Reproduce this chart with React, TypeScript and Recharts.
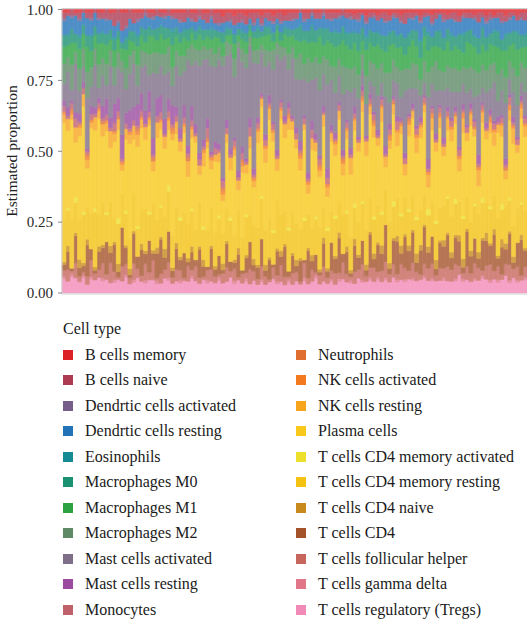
import { Bar, BarChart, XAxis, YAxis } from "recharts";

// legend order (top of stack first)
const cellTypes = [
  "B cells memory",
  "B cells naive",
  "Dendrtic cells activated",
  "Dendrtic cells resting",
  "Eosinophils",
  "Macrophages M0",
  "Macrophages M1",
  "Macrophages M2",
  "Mast cells activated",
  "Mast cells resting",
  "Monocytes",
  "Neutrophils",
  "NK cells activated",
  "NK cells resting",
  "Plasma cells",
  "T cells CD4 memory activated",
  "T cells CD4 memory resting",
  "T cells CD4 naive",
  "T cells CD4",
  "T cells follicular helper",
  "T cells gamma delta",
  "T cells regulatory (Tregs)",
];

const cellColors = [
  "#DC2127", "#AE3A52", "#775D8A", "#2373B9", "#138A94", "#1A9170",
  "#2CA240", "#5E8A66", "#7E6E88", "#9A4B9F", "#C0606B", "#E06E30",
  "#F47A20", "#F8A51E", "#F8C81A", "#EDE02C", "#F3C212", "#C88A1C",
  "#A4522A", "#C7665C", "#E07688", "#F28AB8",
];

const yTicks = [0, 0.25, 0.5, 0.75, 1];

// estimated proportions per sample (percent), one array per cell type
const bMemory = [1,1,0,1,1,0,1,1,0,1, 1,0,1,1,0,1,1,0,1,1, 1,0,1,1,0,1,1,0,1,1, 1,1,0,1,1,0,1,1,0,1, 1,2,1,1,2,1,1,2,1,1, 1,2,1,1,2,1,1,2,1,1, 1,0,1,1,0,1,1,0,1,1, 1,1,0,1,1,2,1,1,2,1, 1,2,1,1,2,1,1,2,1,1, 1,1,2,1,1,2,1,1,1,2, 1,1,2,1,1,1,2,1,1,2, 1,2,1,1,2,1,1,2,1,1];
const bNaive = [2,1,2,1,2,1,2,2,1,2, 2,3,2,5,4,6,5,3,4,2, 2,1,2,1,2,2,1,2,1,2, 2,3,2,2,3,2,2,3,2,3, 3,2,3,2,3,3,2,3,2,3, 2,3,2,3,2,2,3,2,3,2, 2,1,2,2,1,2,2,1,2,2, 2,1,2,2,1,2,2,1,2,2, 1,2,2,3,2,1,2,2,4,2, 2,1,2,2,1,3,2,1,2,2, 2,3,2,1,2,2,1,3,2,2, 2,1,2,3,2,2,1,2,2,3];
const dcActivated = [1,0,1,0,1,0,0,1,0,1, 0,1,0,0,1,0,1,0,0,1, 0,1,0,1,0,0,1,0,1,0, 1,0,0,1,0,1,0,0,1,0, 1,0,0,1,0,0,1,0,0,1, 0,1,0,0,1,0,1,0,0,1, 0,0,1,0,1,0,0,1,0,1, 0,1,0,0,1,0,1,0,1,0, 1,0,0,1,0,1,0,1,0,0, 1,0,1,0,0,1,0,0,1,0, 0,1,0,1,0,0,1,0,0,1, 1,0,0,1,0,1,0,0,1,0];
const dcResting = [5,6,4,6,5,4,6,5,4,5, 4,5,3,4,3,4,3,4,3,4, 3,4,3,3,4,3,3,4,3,3, 3,2,3,2,3,2,3,2,3,2, 2,3,2,2,3,2,2,3,2,2, 3,2,3,2,3,2,3,2,3,3, 3,4,3,4,3,4,3,4,3,4, 4,5,4,5,4,5,4,5,4,5, 5,4,6,5,4,5,6,4,5,5, 4,5,6,4,5,5,4,6,5,4, 5,6,4,5,5,4,6,5,4,5, 5,4,5,6,4,5,5,4,6,5];
const eosinophils = [0,1,0,0,1,0,0,1,0,0, 1,0,0,1,0,0,1,0,0,1, 0,0,1,0,0,1,0,0,1,0, 0,1,0,0,0,1,0,0,1,0, 0,0,1,0,0,0,1,0,0,0, 1,0,0,1,0,0,0,1,0,0, 0,1,0,0,1,0,0,1,0,0, 1,0,0,1,0,1,0,0,1,0, 0,1,0,0,1,0,1,0,0,1, 0,0,1,0,1,0,0,1,0,0, 1,0,0,1,0,0,1,0,1,0, 0,1,0,0,1,0,0,1,0,1];
const macroM0 = [4,3,5,3,4,3,4,5,3,4, 3,4,3,4,3,2,4,3,4,3, 3,4,3,2,4,3,4,3,4,3, 3,2,3,2,3,2,3,2,3,2, 2,3,2,2,3,2,2,3,2,2, 3,2,3,2,3,2,3,2,3,2, 4,5,3,4,5,4,3,5,4,4, 5,4,5,4,5,4,6,5,4,5, 5,4,5,6,4,5,4,5,6,4, 4,5,6,4,5,4,5,6,4,5, 5,4,5,6,4,5,4,5,6,5, 4,5,6,4,5,5,4,6,5,4];
const macroM1 = [6,4,8,3,7,5,9,6,4,8, 5,7,3,6,5,4,7,5,3,6, 5,3,7,5,4,8,5,3,7,5, 4,6,2,4,3,5,2,4,3,5, 3,4,2,3,5,2,3,4,2,4, 4,3,5,6,3,4,2,5,6,4, 6,4,8,5,7,5,9,4,6,8, 7,5,9,8,6,10,8,5,9,7, 6,9,5,8,10,6,7,9,5,8, 9,6,8,10,7,8,5,9,7,10, 6,9,7,5,10,8,9,6,8,7, 8,6,10,7,9,6,8,10,6,8];
const macroM2 = [7,5,9,4,8,6,9,7,5,9, 6,8,5,7,6,4,8,6,5,7, 6,4,8,6,7,5,7,8,6,5, 6,5,3,7,4,5,4,3,6,4, 4,3,5,3,6,2,4,5,3,4, 5,3,6,4,7,4,5,3,6,4, 7,9,5,8,6,7,9,6,8,5, 9,6,10,8,7,9,8,6,10,8, 8,10,7,9,11,8,6,10,8,7, 10,8,6,9,8,7,10,8,6,9, 8,10,7,6,9,8,11,7,9,8, 9,7,10,8,9,7,8,11,8,9];
const mastActivated = [6,12,4,16,8,5,18,7,13,4, 10,5,15,7,11,21,9,12,16,6, 9,14,6,20,8,12,15,9,6,14, 16,11,22,14,21,28,24,18,29,22, 27,34,22,30,20,38,26,31,24,34, 19,15,24,12,18,32,14,22,12,20, 16,21,12,30,14,19,22,11,27,16, 14,9,20,11,17,8,13,6,11,5, 9,13,5,19,8,6,12,8,22,9, 6,12,8,5,20,9,14,6,15,8, 9,6,18,7,12,5,9,19,6,11, 8,14,6,9,19,6,8,12,5,9];
const mastResting = [2,3,1,2,3,2,1,3,2,2, 4,6,3,7,5,8,4,6,5,7, 6,4,8,5,6,7,5,4,6,3, 3,4,2,5,3,2,2,3,1,2, 2,1,3,2,1,2,2,1,3,2, 2,1,2,3,1,2,1,2,2,1, 2,3,1,2,3,2,1,2,3,2, 2,1,2,1,2,3,1,2,1,2, 1,2,1,3,2,1,2,1,2,1, 2,1,2,1,3,1,2,1,2,2, 1,2,1,2,1,2,1,3,1,2, 2,1,2,1,2,1,2,1,2,1];
const monocytes = [2,1,2,3,1,2,1,2,1,2, 1,2,1,3,2,1,2,1,2,1, 2,1,2,1,2,3,1,2,1,2, 1,2,1,2,1,2,1,3,1,2, 1,2,2,1,2,1,2,1,3,1, 2,1,2,1,2,1,2,1,2,1, 2,1,2,1,3,1,2,1,2,1, 1,2,1,2,1,2,1,2,1,2, 2,1,2,1,2,1,3,1,2,1, 1,2,1,2,1,2,1,2,1,2, 2,1,2,1,2,1,2,1,2,1, 1,2,1,2,1,3,1,2,1,2];
const neutrophils = [0,0,1,0,0,0,1,0,0,0, 1,0,0,0,1,0,0,0,0,1, 0,0,0,1,0,0,0,0,1,0, 0,0,1,0,0,0,0,1,0,0, 0,1,0,0,0,0,1,0,0,0, 0,0,0,1,0,0,0,0,1,0, 0,1,0,0,0,0,1,0,0,0, 0,0,1,0,0,0,0,1,0,0, 1,0,0,0,0,1,0,0,0,1, 0,0,0,1,0,0,0,1,0,0, 0,1,0,0,0,0,1,0,0,0, 1,0,0,0,1,0,0,0,1,0];
const nkActivated = [1,0,1,0,1,0,1,1,0,1, 0,1,0,1,0,1,0,1,0,1, 1,0,1,0,0,1,0,1,1,0, 0,1,0,1,0,0,1,0,1,0, 0,1,0,0,1,0,1,0,0,1, 1,0,1,0,1,0,1,0,1,0, 0,1,0,1,0,0,1,0,1,0, 1,0,1,1,0,1,0,1,0,1, 1,0,1,0,2,0,1,1,0,1, 0,1,1,0,1,2,0,1,0,1, 1,0,1,2,0,1,0,1,1,0, 1,1,0,1,0,2,1,0,1,1];
const nkResting = [3,4,2,5,3,4,3,2,4,3, 4,3,5,3,4,2,4,3,5,4, 3,4,2,3,5,3,4,3,2,4, 3,2,4,3,2,3,4,2,3,2, 3,2,3,4,2,3,2,3,4,2, 4,3,5,4,3,4,3,5,4,3, 3,4,2,3,4,3,2,4,3,3, 4,3,4,3,5,4,3,4,5,3, 4,3,5,4,3,4,5,3,4,4, 3,5,4,3,4,5,3,4,3,5, 4,3,4,5,3,4,3,5,4,3, 4,5,3,4,3,4,5,3,4,4];
const plasma = [34,26,36,18,30,35,14,31,24,37, 22,30,16,28,33,8,27,31,20,26, 28,21,33,10,27,31,23,18,30,25, 20,26,12,24,29,9,18,25,13,21, 17,10,23,15,26,6,20,14,22,12, 30,33,24,36,31,10,34,27,36,29, 25,20,29,7,27,22,17,28,10,25, 21,28,14,26,19,31,24,34,26,33, 28,22,32,9,27,33,19,30,8,26, 30,21,27,34,7,29,23,32,16,27, 26,31,10,29,21,34,27,9,30,23, 28,18,32,25,9,30,27,21,33,28];
const cd4MemActivated = [0,1,0,2,0,1,0,0,1,0, 0,1,0,0,2,0,1,0,0,1, 0,0,1,0,0,1,0,2,0,0, 1,0,0,1,0,0,1,0,0,0, 1,0,0,1,0,0,0,1,0,0, 0,1,0,0,1,0,0,0,1,0, 0,0,1,0,0,1,0,0,1,0, 1,0,0,1,0,2,0,1,0,0, 1,0,1,0,0,2,0,1,0,1, 0,1,0,0,2,0,1,0,0,1, 0,2,0,1,0,0,1,0,2,0, 1,0,0,2,0,1,0,0,1,0];
const cd4MemResting = [15,12,18,10,14,16,11,13,17,12, 14,10,13,9,15,11,12,10,14,9, 12,13,10,14,9,12,11,13,10,12, 11,13,9,12,10,14,9,11,13,10, 12,9,11,13,8,12,10,13,9,11, 13,15,12,14,11,16,13,12,15,14, 12,10,13,11,9,12,14,10,12,11, 13,11,14,12,10,13,11,14,12,13, 12,14,11,13,15,12,14,11,13,12, 14,11,13,12,10,14,12,13,11,14, 12,13,11,14,12,10,13,12,14,11, 13,12,14,11,13,12,10,13,12,14];
const cd4Naive = [1,2,0,1,3,1,2,0,1,2, 1,0,2,1,3,0,1,2,1,0, 2,1,0,1,2,1,3,0,1,2, 1,0,1,2,0,1,2,0,1,1, 0,2,1,0,1,2,0,1,0,2, 1,0,2,1,0,1,2,1,0,1, 2,1,0,1,2,0,1,2,1,0, 1,2,0,2,1,3,1,0,2,1, 2,1,3,0,2,1,2,3,1,2, 1,3,2,1,2,0,3,1,2,1, 2,1,2,3,1,2,0,2,1,3, 1,2,1,3,2,1,2,0,2,1];
const cd4 = [2,6,1,9,3,2,11,4,1,7, 5,12,3,10,2,13,6,1,11,4, 9,3,12,2,8,14,4,10,2,7, 3,8,1,6,2,9,3,1,7,2, 6,1,8,3,2,7,1,5,9,2, 4,10,2,7,1,8,3,11,2,6, 2,7,1,9,3,6,1,8,2,10, 5,12,3,8,1,11,4,9,2,13, 3,10,6,14,2,9,12,4,11,7, 12,3,9,15,5,11,2,10,7,13, 4,11,8,2,13,6,10,3,12,9, 7,13,3,10,5,12,2,9,14,6];
const tfh = [2,4,1,5,2,1,3,6,2,3, 5,2,6,3,1,5,4,2,6,3, 2,5,3,6,1,4,3,5,2,4, 3,1,4,2,5,2,1,3,4,2, 1,3,5,2,4,1,3,2,5,3, 2,5,3,1,4,2,6,3,1,4, 3,1,5,2,4,1,3,5,2,3, 4,2,6,3,1,5,3,6,2,4, 5,2,4,6,3,5,2,6,4,3, 6,3,2,5,4,6,2,5,3,6, 4,6,3,2,5,3,6,4,2,5, 6,3,5,2,4,6,3,5,2,4];
const gammaDelta = [1,0,1,0,0,1,0,1,0,0, 1,0,0,1,0,0,1,0,1,0, 0,1,0,0,1,0,0,1,0,0, 1,0,0,1,0,0,0,1,0,0, 1,0,0,0,1,0,0,1,0,0, 0,1,0,0,0,1,0,0,1,0, 0,0,1,0,0,1,0,0,0,1, 0,1,0,0,1,0,0,1,0,1, 0,1,0,1,0,0,1,0,1,0, 1,0,0,1,0,1,0,0,1,0, 0,1,0,1,0,0,1,0,1,0, 1,0,1,0,0,1,0,1,0,1];
const tregs = [5,4,6,5,4,5,3,5,4,6, 4,5,3,4,5,4,6,3,4,5, 4,3,5,4,3,4,5,4,3,4, 3,4,3,5,4,3,4,3,4,3, 4,3,4,5,3,4,3,4,3,4, 3,4,3,4,5,3,4,3,4,3, 4,3,4,3,4,5,3,4,3,4, 3,4,5,4,3,4,5,4,4,5, 4,5,4,5,4,6,4,5,4,5, 5,4,5,6,4,5,4,5,4,5, 4,5,6,4,5,4,5,4,6,5, 4,5,4,5,6,4,5,4,5,5];

const series = [
  bMemory, bNaive, dcActivated, dcResting, eosinophils, macroM0, macroM1,
  macroM2, mastActivated, mastResting, monocytes, neutrophils, nkActivated,
  nkResting, plasma, cd4MemActivated, cd4MemResting, cd4Naive, cd4, tfh,
  gammaDelta, tregs,
];

const data = plasma.map((_, i) => {
  const total = series.reduce((s, arr) => s + arr[i], 0);
  const row: Record<string, number> = { sample: i + 1 };
  cellTypes.forEach((name, k) => {
    row[name] = series[k][i] / total;
  });
  return row;
});

// ggplot-ish alpha on a white background
function washed(hex: string, a = 0.8) {
  const n = parseInt(hex.slice(1), 16);
  const ch = [(n >> 16) & 255, (n >> 8) & 255, n & 255].map((c) =>
    Math.round(c * a + 255 * (1 - a))
  );
  return "#" + ch.map((c) => c.toString(16).padStart(2, "0")).join("");
}

const serif = '"Liberation Serif"';

function YTick(props: any) {
  const { x, y, payload } = props;
  return (
    <text x={x} y={y} dy="0.35em" textAnchor="end" fontSize={15} fill="#2a2a2a" style={{ fontFamily: serif }}>
      {Number(payload.value).toFixed(2)}
    </text>
  );
}

export default function App() {
  const stackOrder = cellTypes.map((_, k) => k).reverse();
  return (
    <div
      style={{
        position: "absolute",
        left: 0,
        top: 0,
        width: 527,
        height: 622,
        background: "#fff",
        fontFamily: serif,
        color: "#1a1a1a",
      }}
    >
      <BarChart
        width={527}
        height={302}
        data={data}
        margin={{ top: 8, right: 0, bottom: 7, left: 0 }}
        barCategoryGap={0}
        barGap={0}
      >
        <XAxis
          dataKey="sample"
          tick={false}
          tickLine={false}
          height={1}
          axisLine={{ stroke: "#cfcfcf" }}
        />
        <YAxis
          type="number"
          domain={[-0.0035, 1.0053]}
          ticks={yTicks}
          interval={0}
          width={62}
          tickSize={4}
          tickMargin={5}
          allowDataOverflow
          tick={<YTick />}
          tickLine={{ stroke: "#888" }}
          axisLine={{ stroke: "#cfcfcf" }}
          label={{
            value: "Estimated proportion",
            angle: -90,
            position: "insideLeft",
            offset: 11,
            style: { textAnchor: "middle", fontSize: 15.5, fill: "#222", fontFamily: serif },
          }}
        />
        {stackOrder.map((k) => (
          <Bar
            key={cellTypes[k]}
            dataKey={cellTypes[k]}
            stackId="cells"
            fill={washed(cellColors[k])}
            stroke={washed(cellColors[k])}
            strokeWidth={0.6}
            isAnimationActive={false}
          />
        ))}
      </BarChart>
      <div style={{ position: "absolute", left: 62, right: 0, top: 8, height: 1, background: "#cfcfcf" }} />

      <div style={{ position: "absolute", left: 63, top: 318, fontSize: 16, lineHeight: "22px", fontFamily: serif }}>
        Cell type
      </div>
      <div
        style={{
          position: "absolute",
          left: 63,
          top: 342,
          display: "grid",
          gridTemplateColumns: "233px 230px",
          gridAutoFlow: "column",
          gridTemplateRows: "repeat(11, 25.5px)",
        }}
      >
        {cellTypes.map((name, k) => (
          <div key={name} style={{ display: "flex", alignItems: "center", whiteSpace: "nowrap" }}>
            <span
              style={{
                width: 10,
                height: 10,
                background: cellColors[k],
                marginRight: 12,
                flex: "none",
              }}
            />
            <span style={{ fontFamily: serif, fontSize: 16 }}>{name}</span>
          </div>
        ))}
      </div>
    </div>
  );
}
